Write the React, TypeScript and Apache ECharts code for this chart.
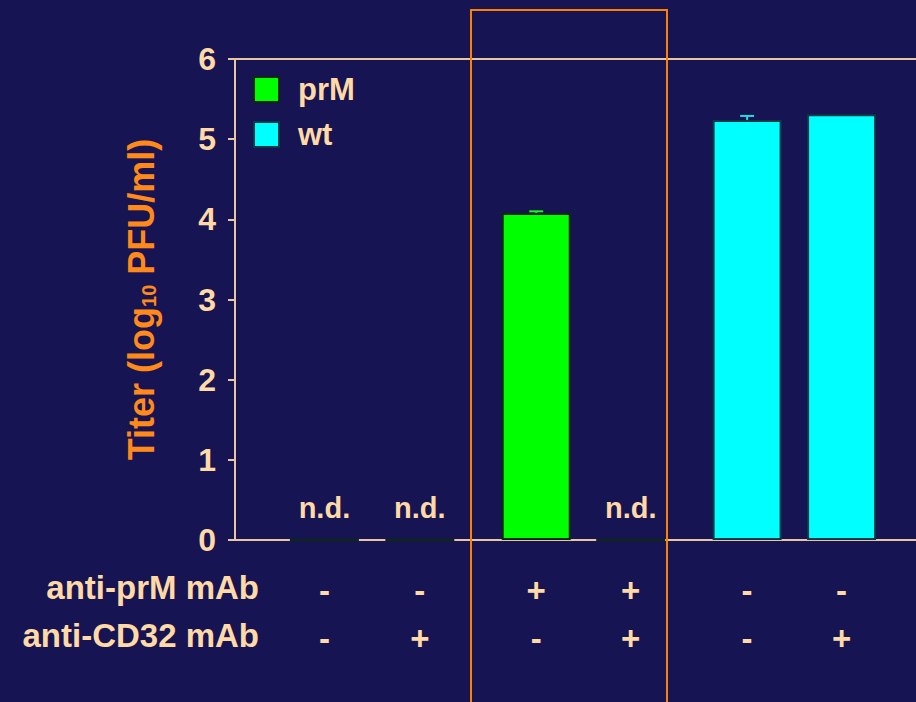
import React, { useEffect, useRef } from "react";
import * as echarts from "echarts";

// ---- data ----
const groupLabels = ["1", "2", "3", "4", "5", "6"];
const barPositions = [1, 2, 3.22, 4.21, 5.43, 6.42];
const antiPrMRow = ["-", "-", "+", "+", "-", "-"];
const antiCD32Row = ["-", "+", "-", "+", "-", "+"];
const prMTiter = [0, 0, 4.08, 0];
const prMError = [0, 0, 0.02, 0];
const wtTiter = [5.24, 5.31];
const wtError = [0.05, 0];
const yTicks = [0, 1, 2, 3, 4, 5, 6];

const FONT = "'Liberation Sans', Arial, sans-serif";
const PEACH = "#FFD9A6";
const AXIS = "#E8C6A2";
const ORANGE = "#FF8A1A";
const BG = "#161452";

export default function App() {
  const ref = useRef<HTMLDivElement>(null);
  useEffect(() => {
    const chart = echarts.init(ref.current!, null, { renderer: "svg" });
    const prMData = prMTiter.map((v, i) => [barPositions[i], v]);
    const wtData = wtTiter.map((v, i) => [barPositions[i + 4], v]);
    const prMErr = prMTiter
      .map((v, i) => [barPositions[i], v, prMError[i]])
      .filter((d) => d[2] > 0);
    const wtErr = wtTiter
      .map((v, i) => [barPositions[i + 4], v, wtError[i]])
      .filter((d) => d[2] > 0);
    const errRender = (color: string) => (params: any, api: any) => {
      const x = api.value(0);
      const y = api.value(1);
      const e = api.value(2);
      const base = api.coord([x, y]);
      const top = api.coord([x, y + e]);
      return {
        type: "group",
        children: [
          {
            type: "line",
            shape: { x1: base[0], y1: base[1], x2: top[0], y2: top[1] },
            style: { stroke: color, lineWidth: 2 },
          },
          {
            type: "line",
            shape: { x1: top[0] - 7, y1: top[1], x2: top[0] + 7, y2: top[1] },
            style: { stroke: color, lineWidth: 2 },
          },
        ],
      };
    };
    const labelFor = (value: number) => {
      const i = barPositions.findIndex((p) => Math.abs(p - value) < 1e-6);
      if (i < 0) return "";
      return `${antiPrMRow[i]}\n${antiCD32Row[i]}`;
    };
    chart.setOption({
      animation: false,
      backgroundColor: BG,
      grid: { left: 229, right: 0, top: 59, bottom: 162 },
      legend: {
        data: ["prM", "wt"],
        orient: "vertical",
        left: 253,
        top: 74,
        padding: 0,
        itemWidth: 25,
        itemHeight: 25,
        itemGap: 14,
        icon: "rect",
        textStyle: {
          color: PEACH,
          fontFamily: FONT,
          fontWeight: "bold",
          fontSize: 31,
          padding: [0, 0, 0, 14],
        },
      },
      xAxis: [
        {
          type: "value",
          min: 0,
          max: 7.2,
          splitLine: { show: false },
          axisTick: { show: false },
          axisLine: { show: true, onZero: false, lineStyle: { color: AXIS, width: 2 } },
          axisLabel: {
            customValues: barPositions,
            formatter: labelFor,
            color: PEACH,
            fontFamily: FONT,
            fontWeight: "bold",
            fontSize: 33,
            lineHeight: 48,
            margin: 26,
          },
        },
        {
          type: "value",
          position: "top",
          min: 0,
          max: 7.2,
          splitLine: { show: false },
          axisTick: { show: false },
          axisLabel: { show: false },
          axisLine: { show: true, onZero: false, lineStyle: { color: AXIS, width: 2 } },
        },
      ],
      yAxis: {
        type: "value",
        min: yTicks[0],
        max: yTicks[yTicks.length - 1],
        interval: 1,
        offset: -6,
        splitLine: { show: false },
        axisLine: { show: true, lineStyle: { color: AXIS, width: 2 } },
        axisTick: { show: true, length: 7, lineStyle: { color: AXIS, width: 2 } },
        axisLabel: {
          color: PEACH,
          fontFamily: FONT,
          fontWeight: "bold",
          fontSize: 32,
          margin: 19,
        },
        name: "Titer (log{sub|10} PFU/ml)",
        nameLocation: "middle",
        nameRotate: 90,
        nameGap: 76,
        nameTextStyle: {
          color: ORANGE,
          fontFamily: FONT,
          fontWeight: "bold",
          fontSize: 36,
          rich: {
            sub: {
              color: ORANGE,
              fontFamily: FONT,
              fontWeight: "bold",
              fontSize: 20,
              verticalAlign: "bottom",
              padding: [15, 0, 0, 0],
            },
          },
        },
      },
      graphic: [
        {
          type: "text",
          right: 916 - 259,
          top: 571,
          style: {
            text: "anti-prM mAb",
            fill: PEACH,
            font: `bold 33px ${FONT}`,
            textAlign: "right",
          },
        },
        {
          type: "text",
          right: 916 - 259,
          top: 619,
          style: {
            text: "anti-CD32 mAb",
            fill: PEACH,
            font: `bold 33px ${FONT}`,
            textAlign: "right",
          },
        },
        {
          type: "rect",
          shape: { x: 471, y: 10, width: 196, height: 720 },
          style: { fill: "none", stroke: "#FF7F00", lineWidth: 2 },
          z: 100,
        },
      ],
      series: [
        {
          name: "prM",
          type: "bar",
          data: prMData,
          barWidth: 69,
          barGap: "-100%",
          itemStyle: { color: "#00FF00", borderColor: "#0A2A10", borderWidth: 2 },
          label: {
            show: true,
            position: "top",
            distance: 17,
            formatter: (p: any) => (p.value[1] === 0 ? "n.d." : ""),
            color: PEACH,
            fontFamily: FONT,
            fontWeight: "bold",
            fontSize: 29,
          },
        },
        {
          name: "wt",
          type: "bar",
          data: wtData,
          barWidth: 69,
          barGap: "-100%",
          itemStyle: { color: "#00FFFF", borderColor: "#0A3A48", borderWidth: 2 },
        },
        {
          name: "prMErr",
          type: "custom",
          data: prMErr,
          renderItem: errRender("#22EE22"),
          z: 5,
        },
        {
          name: "wtErr",
          type: "custom",
          data: wtErr,
          renderItem: errRender("#22DDDD"),
          z: 5,
        },
      ],
    });
    return () => chart.dispose();
  }, []);
  return (
    <div
      ref={ref}
      data-groups={groupLabels.join(",")}
      style={{ position: "fixed", left: 0, top: 0, width: 916, height: 702 }}
    />
  );
}
